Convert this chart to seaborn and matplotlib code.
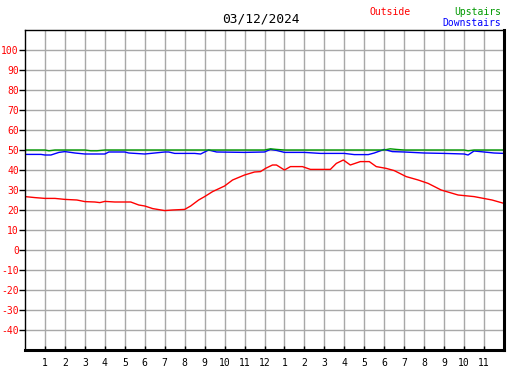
import matplotlib
matplotlib.use("Agg")
import matplotlib.pyplot as plt
import pandas as pd
import seaborn as sns

# readings, x in hours since midnight
out_hours = [0, 0.5, 1, 1.5, 2, 2.6, 3, 3.5, 3.75, 4, 4.5, 5, 5.3, 5.7, 6, 6.4, 7, 7.4,
             8, 8.3, 8.7, 9, 9.4, 10, 10.4, 11, 11.5, 11.8, 12.05, 12.4, 12.6, 13, 13.3,
             13.9, 14.3, 14.7, 15.3, 15.6, 15.95, 16.3, 16.8, 17.25, 17.6, 18.1, 18.5,
             19.1, 19.7, 20.2, 20.85, 21.7, 22.5, 23.4, 24]
outside = [26.7, 26.2, 25.8, 25.8, 25.3, 25, 24.2, 24, 23.7, 24.3, 24, 24, 24, 22.5, 22,
           20.7, 19.7, 20, 20.3, 22, 25, 26.7, 29.2, 32, 35, 37.5, 39, 39.2, 40.8, 42.5,
           42.5, 40, 41.7, 41.7, 40.3, 40.3, 40.3, 43.3, 45, 42.5, 44.2, 44.2, 41.7, 40.8,
           39.7, 36.7, 35, 33.3, 30, 27.5, 26.7, 25, 23.3]

down_hours = [0, 0.8, 1, 1.3, 1.7, 2, 2.5, 3, 4, 4.2, 5, 5.2, 6, 7, 7.2, 7.5, 8.5, 8.8,
              9.2, 9.6, 11, 12, 12.3, 12.6, 13, 14, 14.8, 16, 16.5, 17.2, 17.5, 18, 18.4,
              19, 20, 21, 22, 22.2, 22.5, 23, 23.5, 24]
downstairs = [47.8, 47.8, 47.5, 47.5, 48.8, 49.2, 48.5, 48, 48, 49, 49, 48.5, 48, 49, 49,
              48.3, 48.3, 48, 50, 49, 48.8, 49, 50.3, 49.8, 48.8, 48.8, 48.3, 48.3, 47.7,
              47.7, 48.5, 50.3, 49.2, 49, 48.5, 48.3, 48, 47.5, 49.5, 49, 48.5, 48.3]

up_hours = [0, 1, 1.2, 1.5, 2, 3, 3.3, 3.6, 4, 6, 9, 12, 12.3, 12.6, 13, 18, 18.3, 18.6,
            19, 22, 22.2, 22.5, 24]
upstairs = [50, 50, 49.6, 50, 50, 50, 49.6, 49.6, 50, 50, 50, 50, 50.6, 50.3, 50, 50,
            50.6, 50.3, 50, 50, 49.6, 50, 50]

hour_ticks = list(range(1, 24))
hour_labels = [str(h) for h in range(1, 13)] + [str(h) for h in range(1, 12)]
temp_ticks = list(range(-40, 101, 10))

sns.set_style("white")
plt.rcParams['font.family'] = ['DejaVu Sans Mono']

fig = plt.figure(figsize=(5.27, 3.70), dpi=100)
ax = fig.add_axes([25 / 527, 20 / 370, 479 / 527, 320 / 370])

df_out = pd.DataFrame({'hour': out_hours, 'temp': outside})
df_down = pd.DataFrame({'hour': down_hours, 'temp': downstairs})
df_up = pd.DataFrame({'hour': up_hours, 'temp': upstairs})

sns.lineplot(data=df_out, x='hour', y='temp', color='#ff0000', linewidth=1, ax=ax)
sns.lineplot(data=df_down, x='hour', y='temp', color='#0000ff', linewidth=1, ax=ax)
sns.lineplot(data=df_up, x='hour', y='temp', color='#009900', linewidth=1, ax=ax)

ax.set_xlim(0, 24)
ax.set_ylim(-50, 110)
ax.set_xticks(hour_ticks)
ax.set_xticklabels(hour_labels)
ax.set_yticks(temp_ticks)
ax.set_yticklabels([str(t) for t in temp_ticks])
ax.set_xlabel('')
ax.set_ylabel('')

ax.grid(True, color='#a8a8a8', linewidth=1)
ax.set_axisbelow(True)

ax.tick_params(axis='x', direction='in', length=3, width=1, colors='black',
               labelsize=7, pad=6, bottom=True)
ax.tick_params(axis='y', direction='out', length=4, width=1, color='black',
               labelcolor='#ff0000', labelsize=7, pad=0.5, left=True)

for side in ['left', 'top']:
    ax.spines[side].set_color('black')
    ax.spines[side].set_linewidth(1)
for side in ['right', 'bottom']:
    ax.spines[side].set_color('black')
    ax.spines[side].set_linewidth(2.2)

fig.text(261 / 527, 1 - 19 / 370, '03/12/2024', ha='center', va='center',
         fontsize=9.3, color='black')
fig.text(411 / 527, 1 - 12 / 370, 'Outside', ha='right', va='center',
         fontsize=7, color='#ff0000')
fig.text(501 / 527, 1 - 12 / 370, 'Upstairs', ha='right', va='center',
         fontsize=7, color='#009900')
fig.text(501 / 527, 1 - 23 / 370, 'Downstairs', ha='right', va='center',
         fontsize=7, color='#0000ff')

fig.savefig('out.png', dpi=100, facecolor='white')
